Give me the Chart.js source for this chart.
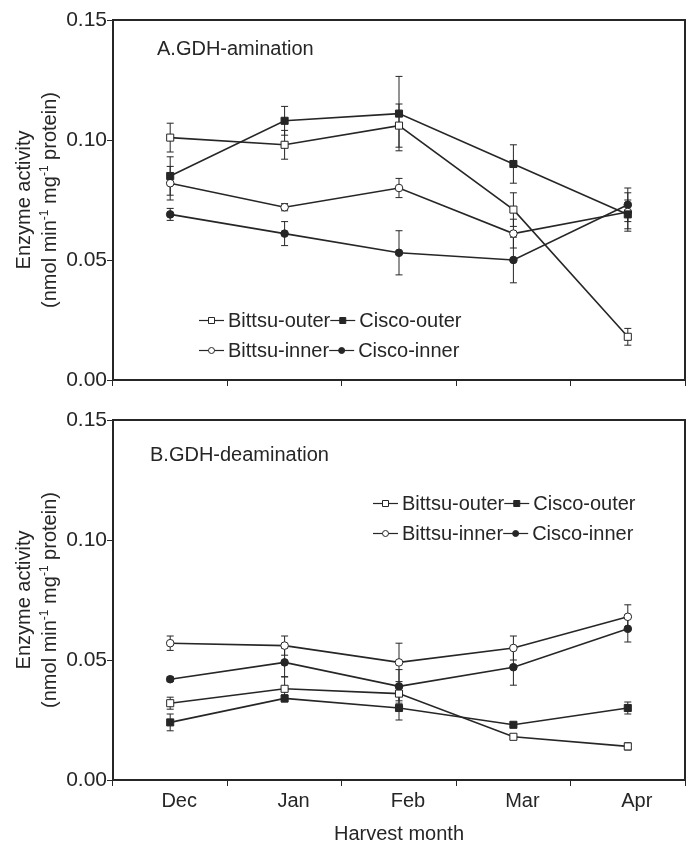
<!DOCTYPE html>
<html>
<head>
<meta charset="utf-8">
<title>GDH activity</title>
<script src="https://cdn.jsdelivr.net/npm/chart.js@4.4.1/dist/chart.umd.min.js"></script>
<style>
  html, body { margin: 0; padding: 0; background: #fff; }
  #wrap { position: relative; width: 691px; height: 847px; }
  canvas { position: absolute; left: 0; }
  #chartA { top: 0; }
  #chartB { top: 400px; }
</style>
</head>
<body>
<div id="wrap">
  <canvas id="chartA" width="691" height="400"></canvas>
  <canvas id="chartB" width="691" height="447"></canvas>
</div>
<script>
// Data
const months = ["Dec", "Jan", "Feb", "Mar", "Apr"];
const seriesNames = ["Bittsu-outer", "Cisco-outer", "Bittsu-inner", "Cisco-inner"];

// A. GDH-amination
const bittsuOuterA = [0.101, 0.098, 0.106, 0.071, 0.018];
const bittsuOuterAErr = [0.006, 0.006, 0.009, 0.007, 0.0035];
const ciscoOuterA = [0.085, 0.108, 0.111, 0.090, 0.069];
const ciscoOuterAErr = [0.008, 0.006, 0.0155, 0.008, 0.006];
const bittsuInnerA = [0.082, 0.072, 0.080, 0.061, 0.070];
const bittsuInnerAErr = [0.007, 0.0015, 0.004, 0.006, 0.008];
const ciscoInnerA = [0.069, 0.061, 0.053, 0.050, 0.073];
const ciscoInnerAErr = [0.0025, 0.005, 0.0092, 0.0095, 0.007];

// B. GDH-deamination
const bittsuOuterB = [0.032, 0.038, 0.036, 0.018, 0.014];
const bittsuOuterBErr = [0.0025, 0.005, 0.003, 0.001, 0.0015];
const ciscoOuterB = [0.024, 0.034, 0.030, 0.023, 0.030];
const ciscoOuterBErr = [0.0035, 0.0015, 0.005, 0.001, 0.0025];
const bittsuInnerB = [0.057, 0.056, 0.049, 0.055, 0.068];
const bittsuInnerBErr = [0.003, 0.004, 0.008, 0.005, 0.005];
const ciscoInnerB = [0.042, 0.049, 0.039, 0.047, 0.063];
const ciscoInnerBErr = [0.001, 0.006, 0.007, 0.0075, 0.0055];

const yMin = 0;
const yMax = 0.15;
const yStep = 0.05;

const ink = "#262626";
const fontFamily = "'Liberation Sans', Arial, sans-serif";

// marker style per series: [pointStyle, filled]
const markers = [["rect", false], ["rect", true], ["circle", false], ["circle", true]];

function makeSet(i, values, errors) {
  const [style, filled] = markers[i];
  return {
    label: seriesNames[i],
    data: values,
    errors: errors,
    borderColor: ink,
    borderWidth: 1.6,
    pointStyle: style,
    pointRadius: style === "rect" ? 5 : 3.8,
    pointBackgroundColor: filled ? ink : "#fff",
    pointBorderColor: ink,
    pointBorderWidth: 1,
    tension: 0,
    fill: false
  };
}

// error bars drawn from each dataset's errors array
const errorBars = {
  id: "errorBars",
  beforeDatasetsDraw(chart) {
    const ctx = chart.ctx;
    const yScale = chart.scales.y;
    ctx.save();
    ctx.strokeStyle = ink;
    ctx.lineWidth = 1;
    chart.data.datasets.forEach((ds, di) => {
      const meta = chart.getDatasetMeta(di);
      ds.data.forEach((v, i) => {
        const e = ds.errors[i];
        const x = meta.data[i].x;
        const yt = yScale.getPixelForValue(v + e);
        const yb = yScale.getPixelForValue(v - e);
        ctx.beginPath();
        ctx.moveTo(x, yt); ctx.lineTo(x, yb);
        ctx.moveTo(x - 3.5, yt); ctx.lineTo(x + 3.5, yt);
        ctx.moveTo(x - 3.5, yb); ctx.lineTo(x + 3.5, yb);
        ctx.stroke();
      });
    });
    ctx.restore();
  }
};

// box around the plot area
const frame = {
  id: "frame",
  afterDraw(chart) {
    const { left, top, right, bottom } = chart.chartArea;
    const ctx = chart.ctx;
    ctx.save();
    ctx.strokeStyle = ink;
    ctx.lineWidth = 2;
    ctx.strokeRect(left, top, right - left, bottom - top);
    ctx.restore();
  }
};

// two-line y title with superscripts
const yTitle = {
  id: "yTitle",
  afterDraw(chart, args, opts) {
    const ctx = chart.ctx;
    const cy = (chart.chartArea.top + chart.chartArea.bottom) / 2;
    ctx.save();
    ctx.fillStyle = ink;
    ctx.textBaseline = "alphabetic";
    ctx.translate(opts.x1, cy);
    ctx.rotate(-Math.PI / 2);
    ctx.font = "20px " + fontFamily;
    ctx.textAlign = "center";
    ctx.fillText("Enzyme activity", 0, 0);
    ctx.restore();

    const parts = [
      ["(nmol min", false], ["-1", true], [" mg", false], ["-1", true], [" protein)", false]
    ];
    ctx.save();
    ctx.fillStyle = ink;
    ctx.textBaseline = "alphabetic";
    ctx.textAlign = "left";
    ctx.translate(opts.x2, cy);
    ctx.rotate(-Math.PI / 2);
    let total = 0;
    parts.forEach(([t, sup]) => {
      ctx.font = (sup ? "12px " : "20px ") + fontFamily;
      total += ctx.measureText(t).width;
    });
    let x = -total / 2;
    parts.forEach(([t, sup]) => {
      ctx.font = (sup ? "12px " : "20px ") + fontFamily;
      ctx.fillText(t, x, sup ? -8 : 0);
      x += ctx.measureText(t).width;
    });
    ctx.restore();
  }
};

// panel label, e.g. "A.GDH-amination"
const panelLabel = {
  id: "panelLabel",
  afterDraw(chart, args, opts) {
    const ctx = chart.ctx;
    ctx.save();
    ctx.fillStyle = ink;
    ctx.font = "20px " + fontFamily;
    ctx.textAlign = "left";
    ctx.textBaseline = "alphabetic";
    ctx.fillText(opts.text, opts.x, opts.y);
    ctx.restore();
  }
};

// legend: line with marker, then the name, two per row
const lineLegend = {
  id: "lineLegend",
  afterDraw(chart, args, opts) {
    const ctx = chart.ctx;
    const sets = chart.data.datasets;
    ctx.save();
    ctx.font = "20px " + fontFamily;
    ctx.textBaseline = "middle";
    ctx.textAlign = "left";
    opts.rows.forEach((row, r) => {
      let x = opts.x;
      const y = opts.y[r];
      row.forEach((di) => {
        const ds = sets[di];
        ctx.strokeStyle = ink;
        ctx.lineWidth = 1.2;
        ctx.beginPath();
        ctx.moveTo(x, y); ctx.lineTo(x + 25, y);
        ctx.stroke();
        const mx = x + 12.5;
        ctx.fillStyle = ds.pointBackgroundColor;
        ctx.lineWidth = 1;
        ctx.beginPath();
        if (ds.pointStyle === "rect") ctx.rect(mx - 3, y - 3, 6, 6);
        else ctx.arc(mx, y, 3, 0, Math.PI * 2);
        ctx.fill();
        ctx.stroke();
        x += 29;
        ctx.fillStyle = ink;
        ctx.fillText(ds.label, x, y + 1);
        x += ctx.measureText(ds.label).width;
      });
    });
    ctx.restore();
  }
};

function makeOptions(showLabels, panel, legend) {
  return {
    responsive: false,
    animation: false,
    layout: { padding: { left: 0, right: 6, top: 20, bottom: 0 } },
    scales: {
      x: {
        type: "category",
        offset: true,
        border: { display: false },
        grid: { offset: true, drawOnChartArea: false, drawTicks: true, tickLength: 6, color: ink, lineWidth: 1 },
        ticks: {
          display: showLabels,
          color: ink,
          font: { family: fontFamily, size: 20 },
          padding: 3,
          labelOffset: 9,
          maxRotation: 0
        },
        title: {
          display: showLabels,
          text: "Harvest month",
          color: ink,
          font: { family: fontFamily, size: 20 },
          padding: { top: 0, bottom: 1 }
        },
        afterFit(scale) { scale.height = showLabels ? 67 : 20; }
      },
      y: {
        min: yMin,
        max: yMax,
        border: { display: false },
        grid: { drawOnChartArea: false, drawTicks: true, tickLength: 6, color: ink, lineWidth: 1 },
        ticks: {
          stepSize: yStep,
          color: ink,
          font: { family: fontFamily, size: 21 },
          padding: 0,
          callback: (v) => v.toFixed(2)
        },
        afterFit(scale) { scale.width = 113; }
      }
    },
    plugins: {
      legend: { display: false },
      tooltip: { enabled: false },
      yTitle: { x1: 30, x2: 56 },
      panelLabel: panel,
      lineLegend: legend
    }
  };
}

const plugins = [errorBars, frame, yTitle, panelLabel, lineLegend];

new Chart(document.getElementById("chartA"), {
  type: "line",
  data: {
    labels: months,
    datasets: [
      makeSet(0, bittsuOuterA, bittsuOuterAErr),
      makeSet(1, ciscoOuterA, ciscoOuterAErr),
      makeSet(2, bittsuInnerA, bittsuInnerAErr),
      makeSet(3, ciscoInnerA, ciscoInnerAErr)
    ]
  },
  options: makeOptions(false,
    { text: "A.GDH-amination", x: 157, y: 55 },
    { x: 199, y: [320.5, 350.5], rows: [[0, 1], [2, 3]] }),
  plugins: plugins
});

new Chart(document.getElementById("chartB"), {
  type: "line",
  data: {
    labels: months,
    datasets: [
      makeSet(0, bittsuOuterB, bittsuOuterBErr),
      makeSet(1, ciscoOuterB, ciscoOuterBErr),
      makeSet(2, bittsuInnerB, bittsuInnerBErr),
      makeSet(3, ciscoInnerB, ciscoInnerBErr)
    ]
  },
  options: makeOptions(true,
    { text: "B.GDH-deamination", x: 150, y: 61 },
    { x: 373, y: [103.5, 133.5], rows: [[0, 1], [2, 3]] }),
  plugins: plugins
});
</script>
</body>
</html>
